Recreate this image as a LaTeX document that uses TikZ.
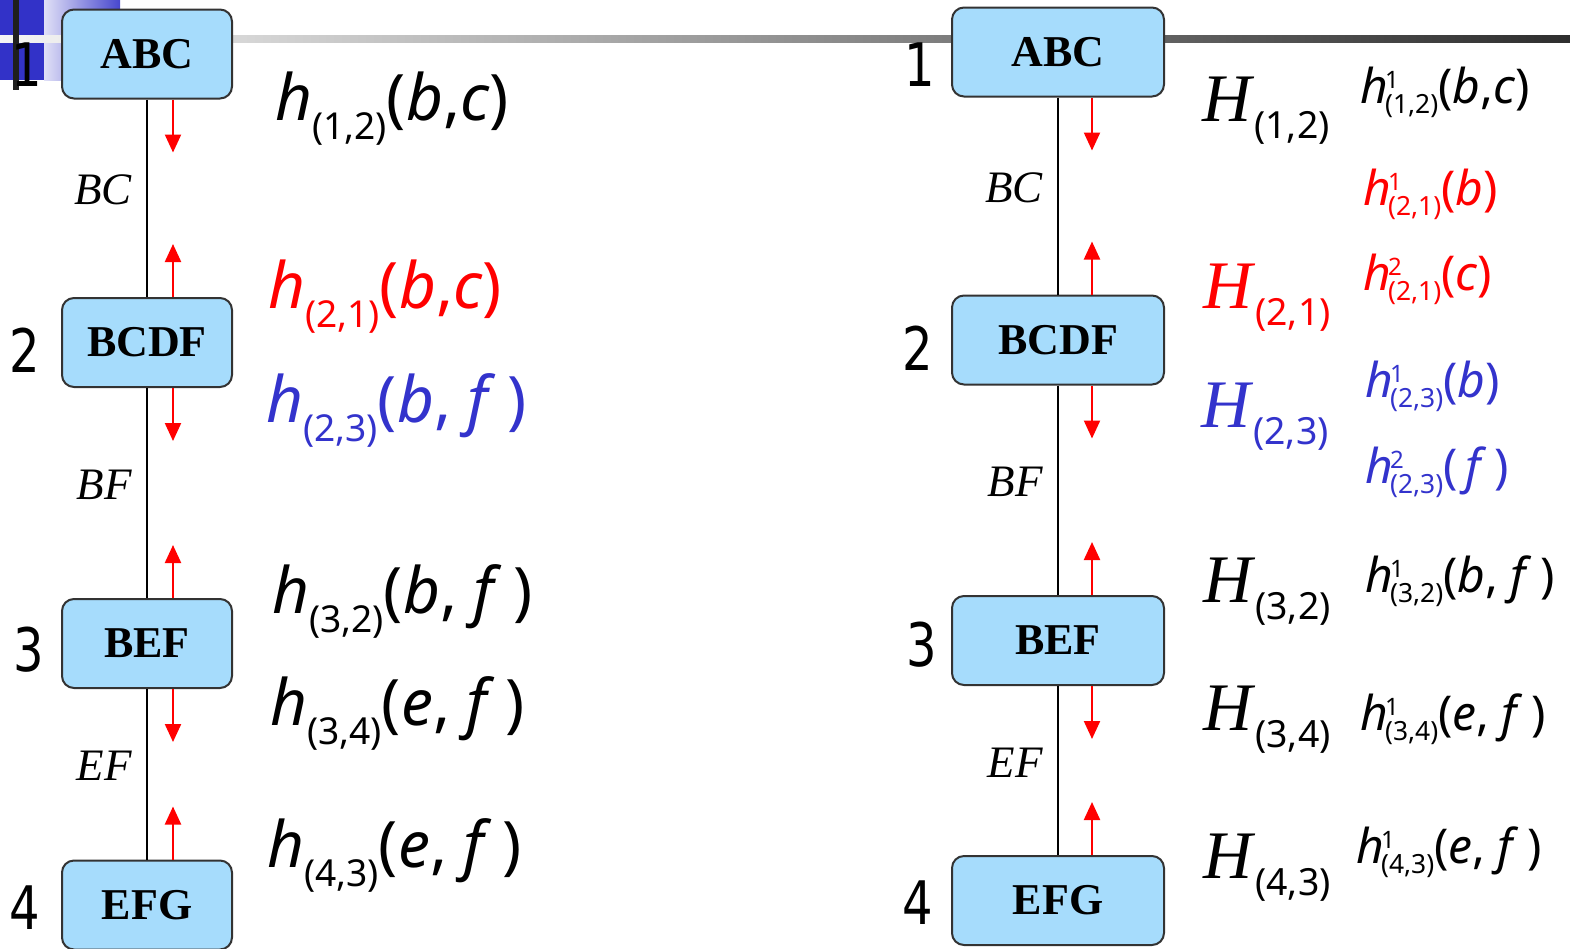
\documentclass[tikz,border=0pt]{standalone}
\usepackage{fontspec}
\setmainfont{Liberation Serif}
\newfontfamily\eqfont{Noto Sans}
\newfontfamily\numfont[FakeStretch=0.8]{DejaVu Sans}
\usepackage{graphicx}
\usetikzlibrary{arrows.meta, positioning}
\definecolor{jtfill}{HTML}{A6DCFC}
\definecolor{jtdraw}{HTML}{333333}
\definecolor{msgred}{HTML}{FF0000}
\definecolor{msgblue}{HTML}{3333CC}
\definecolor{slideblue}{HTML}{3232C8}
\tikzset{
  clique/.style  = {draw=jtdraw, fill=jtfill, line width=2pt, rounded corners=12pt,
                    minimum height=89pt, inner sep=0pt,
                    font=\fontsize{44}{52}\selectfont\bfseries},
  cliqueL/.style = {clique, minimum width=170pt},
  cliqueR/.style = {clique, minimum width=212pt},
  sepedge/.style = {draw=black, line width=2.2pt},
  seplab/.style  = {font=\fontsize{45}{52}\selectfont\itshape, inner sep=0pt,
                    left=14pt, yshift=8pt},
  msg/.style     = {draw=msgred, line width=2.2pt, -{Triangle[width=16pt, length=18pt]}},
  num/.style     = {font=\fontsize{60}{68}\selectfont\numfont, inner sep=0pt},
  eqL/.style     = {anchor=base west, inner sep=0pt, font=\fontsize{64}{72}\selectfont},
  eqR/.style     = {anchor=base west, inner sep=0pt, font=\fontsize{48}{56}\selectfont},
  eqH/.style     = {anchor=base west, inner sep=0pt, font=\fontsize{68}{76}\selectfont},
}
% message h_{sub}(args)
\newcommand{\hmsg}[2]{{\eqfont\itshape h}\raisebox{-0.3em}{\scalebox{0.58}{\eqfont #1}}{\eqfont(#2)}}
% factor h^{sup}_{sub}(args)
\newcommand{\hpart}[3]{{\eqfont\itshape h}\kern-0.06em\rlap{\raisebox{0.3em}{\scalebox{0.5}{\eqfont #2}}}%
  \raisebox{-0.22em}{\scalebox{0.55}{\eqfont #1}}{\eqfont(#3)}}
% set H_{sub}
\newcommand{\Hset}[1]{\textit{H}\raisebox{-0.25em}{\scalebox{0.55}{\eqfont #1}}}
\newcommand{\vb}{\textit{b}}
\newcommand{\vc}{\textit{c}}
\newcommand{\ve}{\textit{e}}
\newcommand{\vf}{\textit{f}}

\begin{document}
\begin{tikzpicture}[x=1pt, y=-1pt]
  \useasboundingbox (0,0) rectangle (1570,948);
  % slide decoration
  \fill[slideblue] (0,0) rectangle (44,80);
  \shade[left color=slideblue!15, right color=slideblue!90] (44,0) rectangle (120,80);
  \shade[left color=black!4, right color=black!82] (0,35) rectangle (1570,42);
  \fill[black!88] (13,0) rectangle (19,90);
  % left tree
  \node[cliqueL] (abcL)  at (147,54)    {ABC};
  \node[cliqueL] (bcdfL) at (147,342.5) {BCDF};
  \node[cliqueL] (befL)  at (147,643.5) {BEF};
  \node[cliqueL] (efgL)  at (147,905)   {EFG};
  \node[num] (n1L) at (27,65)  {1};
  \node[num] (n2L) at (25,350) {2};
  \node[num] (n3L) at (29,650) {3};
  \node[num] (n4L) at (25,908) {4};
  \draw[sepedge] (abcL.south) -- node[seplab] {BC} (bcdfL.north);
  \draw[sepedge] (bcdfL.south) -- node[seplab] {BF} (befL.north);
  \draw[sepedge] (befL.south) -- node[seplab] {EF} (efgL.north);
  \draw[msg] ([xshift=26pt]abcL.south)  -- ++(0,53);
  \draw[msg] ([xshift=26pt]bcdfL.north) -- ++(0,-53);
  \draw[msg] ([xshift=26pt]bcdfL.south) -- ++(0,53);
  \draw[msg] ([xshift=26pt]befL.north)  -- ++(0,-53);
  \draw[msg] ([xshift=26pt]befL.south)  -- ++(0,53);
  \draw[msg] ([xshift=26pt]efgL.north)  -- ++(0,-53);
  \node[eqL] (m12L) at (275,120) {\hmsg{(1,2)}{\vb,\vc}};
  \node[eqL, text=msgred]  (m21L) at (268,308) {\hmsg{(2,1)}{\vb,\vc}};
  \node[eqL, text=msgblue] (m23L) at (266,422) {\hmsg{(2,3)}{\vb, \vf\,}};
  \node[eqL] (m32L) at (272,613) {\hmsg{(3,2)}{\vb, \vf\,}};
  \node[eqL] (m34L) at (270,725) {\hmsg{(3,4)}{\ve, \vf\,}};
  \node[eqL] (m43L) at (267,867) {\hmsg{(4,3)}{\ve, \vf\,}};
  % right tree
  \node[cliqueR] (abcR)  at (1058,52)    {ABC};
  \node[cliqueR] (bcdfR) at (1058,340)   {BCDF};
  \node[cliqueR] (befR)  at (1058,640.5) {BEF};
  \node[cliqueR] (efgR)  at (1058,900.5) {EFG};
  \node[num] (n1R) at (920,65)  {1};
  \node[num] (n2R) at (918,348) {2};
  \node[num] (n3R) at (922,645) {3};
  \node[num] (n4R) at (918,903) {4};
  \draw[sepedge] (abcR.south) -- node[seplab] {BC} (bcdfR.north);
  \draw[sepedge] (bcdfR.south) -- node[seplab] {BF} (befR.north);
  \draw[sepedge] (befR.south) -- node[seplab] {EF} (efgR.north);
  \draw[msg] ([xshift=34pt]abcR.south)  -- ++(0,53);
  \draw[msg] ([xshift=34pt]bcdfR.north) -- ++(0,-53);
  \draw[msg] ([xshift=34pt]bcdfR.south) -- ++(0,53);
  \draw[msg] ([xshift=34pt]befR.north)  -- ++(0,-53);
  \draw[msg] ([xshift=34pt]befR.south)  -- ++(0,53);
  \draw[msg] ([xshift=34pt]efgR.north)  -- ++(0,-53);
  \node[eqH] (H12) at (1202,121) {\Hset{(1,2)}};
  \node[eqH, text=msgred]  (H21) at (1203,308) {\Hset{(2,1)}};
  \node[eqH, text=msgblue] (H23) at (1201,427) {\Hset{(2,3)}};
  \node[eqH] (H32) at (1203,602) {\Hset{(3,2)}};
  \node[eqH] (H34) at (1203,730) {\Hset{(3,4)}};
  \node[eqH] (H43) at (1203,878) {\Hset{(4,3)}};
  \node[eqR] (f12a) at (1360,103) {\hpart{(1,2)}{1}{\vb,\vc}};
  \node[eqR, text=msgred]  (f21a) at (1363,205) {\hpart{(2,1)}{1}{\vb}};
  \node[eqR, text=msgred]  (f21b) at (1363,290) {\hpart{(2,1)}{2}{\vc}};
  \node[eqR, text=msgblue] (f23a) at (1365,397) {\hpart{(2,3)}{1}{\vb}};
  \node[eqR, text=msgblue] (f23b) at (1365,483) {\hpart{(2,3)}{2}{\,\vf\,}};
  \node[eqR] (f32a) at (1365,592) {\hpart{(3,2)}{1}{\vb, \vf\,}};
  \node[eqR] (f34a) at (1360,730) {\hpart{(3,4)}{1}{\ve, \vf\,}};
  \node[eqR] (f43a) at (1356,863) {\hpart{(4,3)}{1}{\ve, \vf\,}};
\end{tikzpicture}
\end{document}
